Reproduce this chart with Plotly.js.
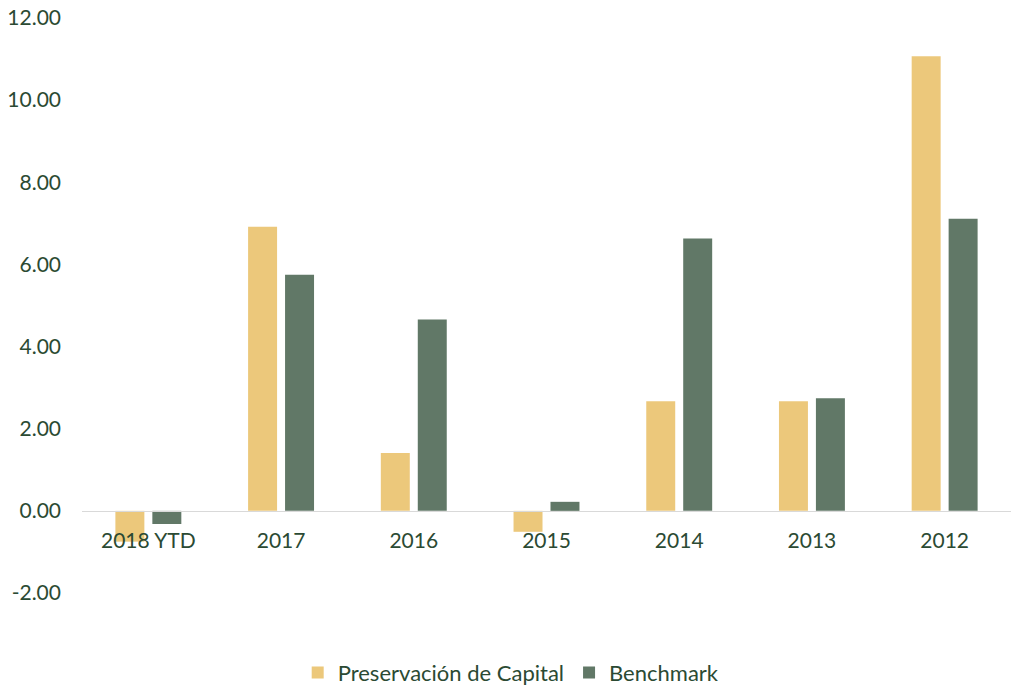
<!DOCTYPE html>
<html>
<head>
<meta charset="utf-8">
<script src="https://cdn.plot.ly/plotly-3.0.1.min.js"></script>
<style>html,body{margin:0;padding:0;background:#fff;}#chart{width:1014px;height:696px;}</style>
</head>
<body>
<div id="chart"></div>
<script>
const categories = ["2018 YTD", "2017", "2016", "2015", "2014", "2013", "2012"];
const preservacion = [-0.75, 6.92, 1.41, -0.51, 2.67, 2.67, 11.07];
const benchmark = [-0.32, 5.75, 4.66, 0.22, 6.63, 2.74, 7.11];
const seriesNames = ["Preservación de Capital", "Benchmark"];
const yTicks = [-2, 0, 2, 4, 6, 8, 10, 12];

const textColor = "#2b4a33";
const fontFamily = "Lato, 'Open Sans', sans-serif";

const data = [
  {type: "bar", x: categories, y: preservacion, name: seriesNames[0], marker: {color: "#ecc87b"}},
  {type: "bar", x: categories, y: benchmark, name: seriesNames[1], marker: {color: "#617867"}}
];

const layout = {
  width: 1014, height: 696,
  margin: {l: 82, r: 3, t: 18, b: 102},
  paper_bgcolor: "#fff", plot_bgcolor: "#fff",
  barmode: "group", bargap: 0.443, bargroupgap: 0.216,
  font: {family: fontFamily, color: textColor, size: 20},
  xaxis: {
    type: "category", anchor: "free", position: 2/14,
    showline: true, linecolor: "#d9d9d9", linewidth: 1.5,
    showgrid: false, ticks: "", zeroline: false,
    tickfont: {size: 21, color: textColor}, ticklabelstandoff: 10
  },
  yaxis: {
    range: [-2, 12], tickvals: yTicks, ticktext: yTicks.map(v => v.toFixed(2)),
    showgrid: false, zeroline: false, showline: false, ticks: "",
    tickfont: {size: 21, color: textColor}, ticklabelstandoff: 20
  },
  legend: {
    orientation: "h", x: 0.462, xanchor: "center", y: -0.1, yanchor: "top",
    font: {size: 22, color: textColor}, itemwidth: 30, traceorder: "normal"
  },
  showlegend: true
};

Plotly.newPlot("chart", data, layout, {displayModeBar: false, staticPlot: true});
</script>
</body>
</html>
